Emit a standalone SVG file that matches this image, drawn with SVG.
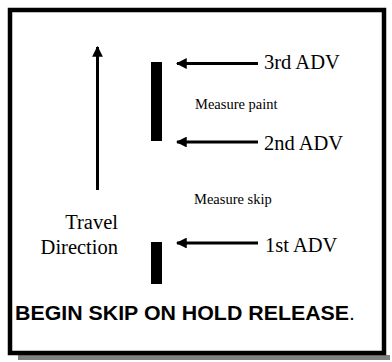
<svg xmlns="http://www.w3.org/2000/svg" width="392" height="362" viewBox="0 0 392 362">
<defs>
<style>
.serif{font-family:"Liberation Serif","Times New Roman",serif;fill:#000}
.lbl{font-size:20.5px}
.small{font-size:14.5px}
.bold{font-family:"Liberation Sans",Arial,sans-serif;font-weight:bold;font-size:20.5px;fill:#000}
.line{stroke:#000;stroke-width:3;fill:none}
.bar{fill:#000}
</style>
<marker id="ah" viewBox="0 0 10 10" refX="9" refY="5" markerWidth="3.6" markerHeight="3.6" orient="auto" markerUnits="strokeWidth">
<path d="M0,0 L10,5 L0,10 Z" fill="#000"/>
</marker>
</defs>
<rect x="0" y="0" width="392" height="362" fill="#fff"/>
<rect id="shadow" x="18" y="355" width="372" height="5" fill="#808080"/>
<rect id="frame" x="10" y="10" width="374" height="343" fill="none" stroke="#000" stroke-width="4.5"/>
<g id="connectors">
<line class="line" x1="97.5" y1="190" x2="97.5" y2="47" marker-end="url(#ah)"/>
<line class="line" x1="258" y1="63.5" x2="177" y2="63.5" marker-end="url(#ah)"/>
<line class="line" x1="258" y1="142" x2="177" y2="142" marker-end="url(#ah)"/>
<line class="line" x1="258" y1="243" x2="177" y2="243" marker-end="url(#ah)"/>
</g>
<g id="bar-paint"><rect class="bar" x="151" y="62" width="11" height="79"/></g>
<g id="bar-skip"><rect class="bar" x="151" y="242" width="11" height="42"/></g>
<g id="adv3"><text class="serif lbl" x="264" y="69">3rd ADV</text></g>
<g id="adv2"><text class="serif lbl" x="264" y="150">2nd ADV</text></g>
<g id="adv1"><text class="serif lbl" x="265" y="252">1st ADV</text></g>
<g id="measure-paint"><text class="serif small" x="195" y="109">Measure paint</text></g>
<g id="measure-skip"><text class="serif small" x="194" y="204">Measure skip</text></g>
<g id="travel"><text class="serif lbl" text-anchor="end" x="118" y="229">Travel</text><text class="serif lbl" text-anchor="end" x="118" y="254">Direction</text></g>
<g id="note"><text class="bold" x="15" y="320" textLength="340" lengthAdjust="spacingAndGlyphs">BEGIN SKIP ON HOLD RELEASE<tspan font-weight="normal">.</tspan></text></g>
</svg>
